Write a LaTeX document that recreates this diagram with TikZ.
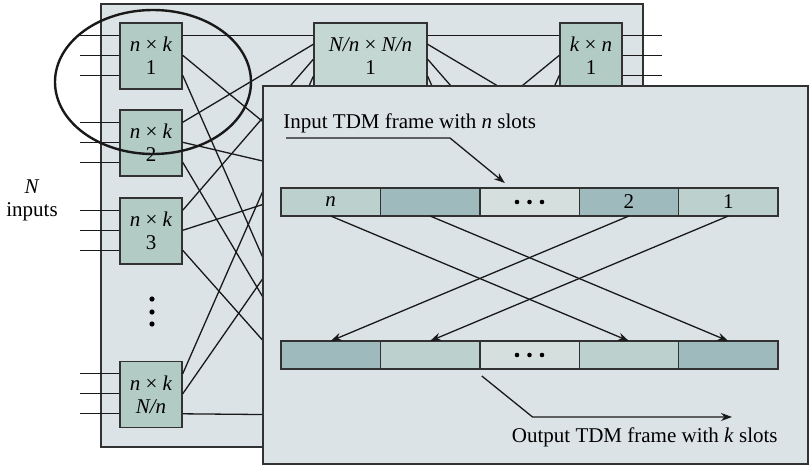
\documentclass[tikz,border=0pt]{standalone}
\usepackage{fontspec}
\setmainfont{Liberation Serif}
\usetikzlibrary{arrows.meta,calc,positioning}

\definecolor{panelgray}{RGB}{220,227,230}
\definecolor{boxgreen}{RGB}{178,203,197}
\definecolor{midgreen}{RGB}{196,215,211}
\definecolor{slotlight}{RGB}{188,208,206}
\definecolor{slotdark}{RGB}{159,186,189}
\definecolor{slotpale}{RGB}{213,223,222}
\definecolor{edgegray}{RGB}{50,50,50}

\tikzset{
  swbox/.style={draw=edgegray, fill=boxgreen, line width=0.7pt, minimum width=31pt,
    minimum height=33pt, inner sep=0pt, align=center},
  slot/.style={draw=edgegray, line width=0.7pt, minimum width=49.7pt, minimum height=14pt,
    inner sep=0pt, outer sep=0pt},
  wire/.style={line width=0.65pt, black!90},
  tdmarrow/.style={wire, -{Stealth[length=5.5pt,width=4pt]}},
}

\begin{document}
\begin{tikzpicture}[x=0.5pt, y=-0.5pt, font=\fontsize{10.5}{11.5}\selectfont]
\useasboundingbox (0,0) rectangle (809,466);

    % Panneau arriere : commutateur a trois etages
    \draw[edgegray, fill=panelgray, line width=0.7pt] (101,4) rectangle (643,447);

    % Premier etage
    \node[swbox] (s1a) at (151,56) {\textit{n} × \textit{k}\\1};
    \node[swbox] (s1b) at (151,143) {\textit{n} × \textit{k}\\2};
    \node[swbox] (s1c) at (151,231) {\textit{n} × \textit{k}\\3};
    \node[swbox] (s1d) at (151,394.5) {\textit{n} × \textit{k}\\\textit{N/n}};

    % Etage central et dernier etage
    \node[swbox, fill=midgreen, minimum width=56.5pt] (m1) at (370.5,56) {\textit{N/n} × \textit{N/n}\\1};
    \node[swbox] (s3a) at (591,56) {\textit{k} × \textit{n}\\1};

    % Extremites cachees sous le second panneau
    \coordinate (m2) at (314,151);
    \coordinate (m2r) at (427,151);
    \coordinate (mk) at (314,361);
    \coordinate (mkr) at (427,361);
    \coordinate (s3b) at (560,110);
    \coordinate (s3c) at (560,198);
    \coordinate (s3d) at (560,362);

    % Liaisons entre etages
    \foreach \s/\p in {s1a/13, s1b/22, s1c/37, s1d/54} {
        \draw[wire] ($(\s.north east)+(0,13)$) -- ($(m1.north west)+(0,\p)$);
        \draw[wire] ($(\s.north east)+(0,33)$) -- ($(m2)+(0,\p)$);
        \draw[wire] ($(\s.north east)+(0,53)$) -- ($(mk)+(0,\p)$);
    }
    \foreach \p/\t in {13/s3a.north west, 22/s3b, 37/s3c, 54/s3d} {
        \draw[wire] ($(m1.north east)+(0,\p)$) -- ($(\t)+(0,13)$);
        \draw[wire] ($(m2r)+(0,\p)$) -- ($(\t)+(0,33)$);
        \draw[wire] ($(mkr)+(0,\p)$) -- ($(\t)+(0,53)$);
    }

    % Entrees et sorties
    \foreach \s in {s1a,s1b,s1c,s1d}
        \foreach \o in {13,33,53}
            \draw[wire] ($(\s.north west)+(-39,\o)$) -- ($(\s.north west)+(0,\o)$);
    \foreach \o in {13,33,53}
        \draw[wire] ($(s3a.north east)+(0,\o)$) -- ++(39,0);

    % Points de suspension
    \foreach \y in {299,312,324}
        \fill (152,\y) circle [radius=2.6];

    \node[align=center] (ninputs) at (32,200) {\textit{N}\\inputs};

    % Ellipse autour du premier commutateur
    \draw[black!90, line width=1.2pt] (153,82) ellipse [x radius=98, y radius=72];

    % Second panneau : echange d'intervalles de temps
    \draw[edgegray, fill=panelgray, line width=0.7pt] (263,86) rectangle (808,464);

    \node[slot, fill=slotlight] (in1) at (330.7,202) {\textit{n}};
    \node[slot, fill=slotdark, right=0pt of in1] (in2) {};
    \node[slot, fill=slotpale, right=0pt of in2] (in3) {};
    \node[slot, fill=slotdark, right=0pt of in3] (in4) {2};
    \node[slot, fill=slotlight, right=0pt of in4] (in5) {1};

    \node[slot, fill=slotdark] (out1) at (330.7,355) {};
    \node[slot, fill=slotlight, right=0pt of out1] (out2) {};
    \node[slot, fill=slotpale, right=0pt of out2] (out3) {};
    \node[slot, fill=slotlight, right=0pt of out3] (out4) {};
    \node[slot, fill=slotdark, right=0pt of out4] (out5) {};

    \foreach \c in {in3,out3}
        \foreach \dx in {-12.5,0,12.5}
            \fill ($(\c.center)+(\dx,0)$) circle [radius=2.3];

    % Permutation des intervalles
    \draw[tdmarrow] (in1.south) -- (out4.north);
    \draw[tdmarrow] (in2.south) -- (out5.north);
    \draw[tdmarrow] (in4.south) -- (out1.north);
    \draw[tdmarrow] (in5.south) -- (out2.north);

    % Legendes
    \node[anchor=west, inner sep=0pt] (inlabel) at (283,123) {Input TDM frame with \textit{n} slots};
    \draw[tdmarrow] ($(inlabel.south west)+(3,5)$) -- ++(164,0) -- ($(in3.north west)+(25,-5)$);

    \node[anchor=east, inner sep=0pt] (outlabel) at (778,437) {Output TDM frame with \textit{k} slots};
    \draw[tdmarrow] ($(out3.south west)+(2,7)$) -- ($(outlabel.north west)+(21,-10)$) -- ($(outlabel.north east)+(-46,-10)$);

\end{tikzpicture}
\end{document}
